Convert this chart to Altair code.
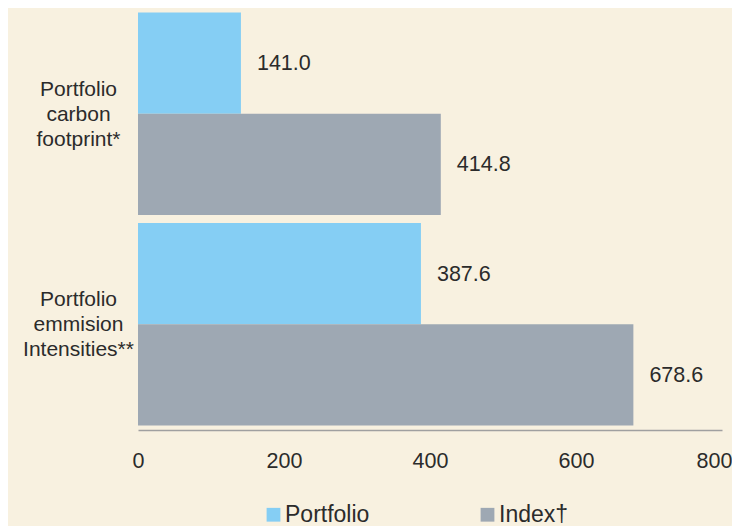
import altair as alt
import pandas as pd

categories = ["Portfolio carbon footprint*", "Portfolio emmision Intensities**"]
series = ["Portfolio", "Index†"]
portfolio_values = [141.0, 387.6]
index_values = [414.8, 678.6]
x_ticks = [0, 200, 400, 600, 800]

rows = []
for c, p, i in zip(categories, portfolio_values, index_values):
    rows.append({"category": c, "series": series[0], "value": p})
    rows.append({"category": c, "series": series[1], "value": i})
df = pd.DataFrame(rows)

FONT = "Liberation Sans"
TXT = "#2b2b2b"

y_enc = alt.Y(
    "category:N",
    sort=categories,
    title=None,
    scale=alt.Scale(paddingInner=0.038, paddingOuter=0.021),
    axis=alt.Axis(
        domain=False,
        ticks=False,
        labelExpr="split(datum.label, ' ')",
        labelAlign="center",
        labelBaseline="middle",
        labelOffset=-24,
        labelPadding=60,
        labelLineHeight=25,
        labelFontSize=21,
        labelFont=FONT,
        labelColor=TXT,
        minExtent=130,
        maxExtent=130,
    ),
)
yoff = alt.YOffset("series:N", sort=series, scale=alt.Scale(paddingInner=0, paddingOuter=0))
x_enc = alt.X(
    "value:Q",
    title=None,
    scale=alt.Scale(domain=[0, 800], nice=False),
    axis=alt.Axis(
        values=x_ticks,
        grid=False,
        ticks=False,
        domainColor="#a0a0a0",
        domainWidth=1.5,
        labelPadding=20,
        labelFontSize=21.5,
        labelFont=FONT,
        labelColor=TXT,
        labelFlush=False,
        labelOffset={"condition": {"test": "datum.value == 800", "value": -8}, "value": 0},
    ),
)

bars = alt.Chart(df).mark_bar().encode(
    x=x_enc,
    y=y_enc,
    yOffset=yoff,
    color=alt.Color(
        "series:N",
        sort=series,
        scale=alt.Scale(domain=series, range=["#85CEF4", "#9EA8B3"]),
        legend=alt.Legend(
            title=None,
            orient="none",
            direction="horizontal",
            legendX=124,
            legendY=495,
            symbolType="square",
            symbolSize=190,
            symbolStrokeWidth=0,
            symbolOpacity=1,
            labelFontSize=23,
            labelFont=FONT,
            labelColor=TXT,
            labelOffset=0,
            columnPadding=106,
        ),
    ),
)

labels = alt.Chart(df).mark_text(
    align="left", baseline="middle", dx=16, dy=1, fontSize=21.5, font=FONT, color=TXT
).encode(
    x=alt.X("value:Q"),
    y=alt.Y("category:N", sort=categories),
    yOffset=alt.YOffset("series:N", sort=series),
    text=alt.Text("value:Q", format=".1f"),
)

chart = (
    alt.layer(bars, labels)
    .properties(width=584, height=422, background="#F8F1E0", padding={"left": 0, "top": 0, "right": 0, "bottom": 0})
    .configure_view(stroke=None)
)

chart.save("out.html", embed_options={"renderer": "svg", "actions": False})
